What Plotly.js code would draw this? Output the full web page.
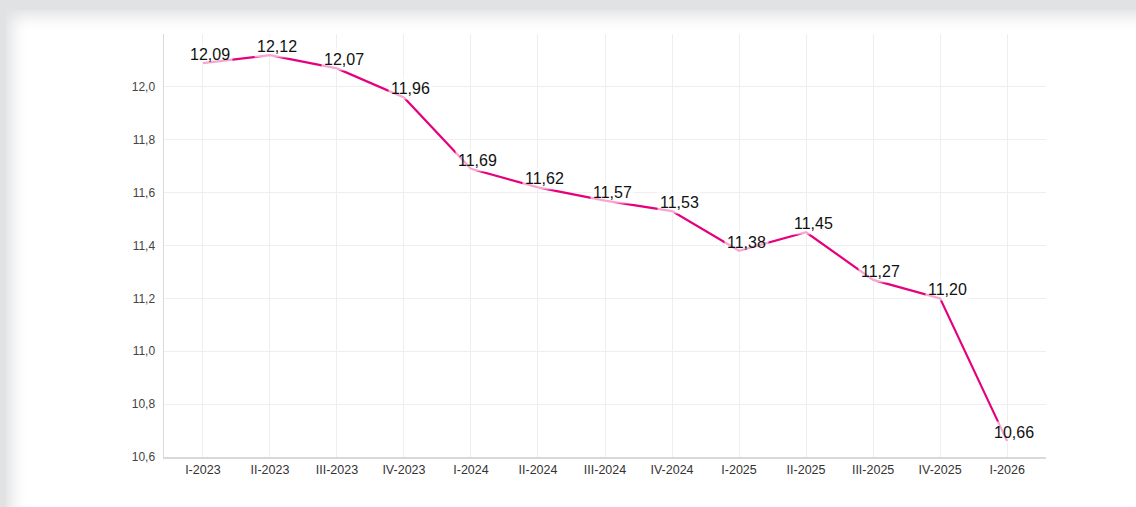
<!DOCTYPE html>
<html>
<head>
<meta charset="utf-8">
<script src="https://cdn.plot.ly/plotly-3.0.1.min.js"></script>
<style>
html,body{margin:0;padding:0;width:1136px;height:507px;overflow:hidden;background:#e1e2e4;}
#card{position:absolute;left:6px;top:10px;width:1130px;height:497px;background:#fff;box-shadow:inset 10px 10px 16px -4px rgba(0,0,0,0.12);}
#chart{position:absolute;left:0;top:0;width:1136px;height:507px;}
</style>
</head>
<body>
<div id="card"></div>
<div id="chart"></div>
<script>
const categories = ["I-2023","II-2023","III-2023","IV-2023","I-2024","II-2024","III-2024","IV-2024","I-2025","II-2025","III-2025","IV-2025","I-2026"];
const values = [12.09,12.12,12.07,11.96,11.69,11.62,11.57,11.53,11.38,11.45,11.27,11.20,10.66];
const yTickVals = [10.6,10.8,11.0,11.2,11.4,11.6,11.8,12.0];
const yTickText = ["10,6","10,8","11,0","11,2","11,4","11,6","11,8","12,0"];
const labelText = values.map(v => v.toFixed(2).replace('.', ','));

const trace = {
  x: categories.map((c,i)=>i),
  y: values,
  mode: 'lines',
  line: {color: '#e5007d', width: 2.2},
  hoverinfo: 'skip'
};

const annotations = values.map((v,i)=>({
  x: i, y: v, xref: 'x', yref: 'y',
  text: labelText[i], showarrow: false,
  xanchor: 'center', yanchor: 'bottom',
  xshift: 7, yshift: -3,
  font: {family: 'Liberation Sans, Arial, sans-serif', size: 16, color: '#111'},
  bgcolor: 'rgba(255,255,255,0.65)', borderpad: 2
}));

const layout = {
  width: 1136, height: 507,
  margin: {l: 164, r: 90, t: 34, b: 50},
  paper_bgcolor: 'rgba(0,0,0,0)',
  plot_bgcolor: 'rgba(0,0,0,0)',
  showlegend: false,
  font: {family: 'Liberation Sans, Arial, sans-serif'},
  xaxis: {
    range: [-0.58, 12.58],
    tickvals: categories.map((c,i)=>i),
    ticktext: categories,
    showgrid: true, gridcolor: '#eeeeee', gridwidth: 1,
    zeroline: false,
    showline: true, linecolor: '#d9d9d9', linewidth: 1.5,
    ticks: '', ticklen: 0,
    tickfont: {size: 12.5, color: '#333'},
    fixedrange: true
  },
  yaxis: {
    range: [10.6, 12.2],
    tickvals: yTickVals, ticktext: yTickText,
    showgrid: true, gridcolor: '#eeeeee', gridwidth: 1,
    zeroline: false,
    showline: true, linecolor: '#d9d9d9', linewidth: 1.5,
    ticks: '', ticklen: 0,
    ticklabelstandoff: 5,
    tickfont: {size: 12, color: '#444'},
    fixedrange: true
  },
  annotations: annotations
};

Plotly.newPlot('chart', [trace], layout, {displayModeBar: false, staticPlot: true});
</script>
</body>
</html>
